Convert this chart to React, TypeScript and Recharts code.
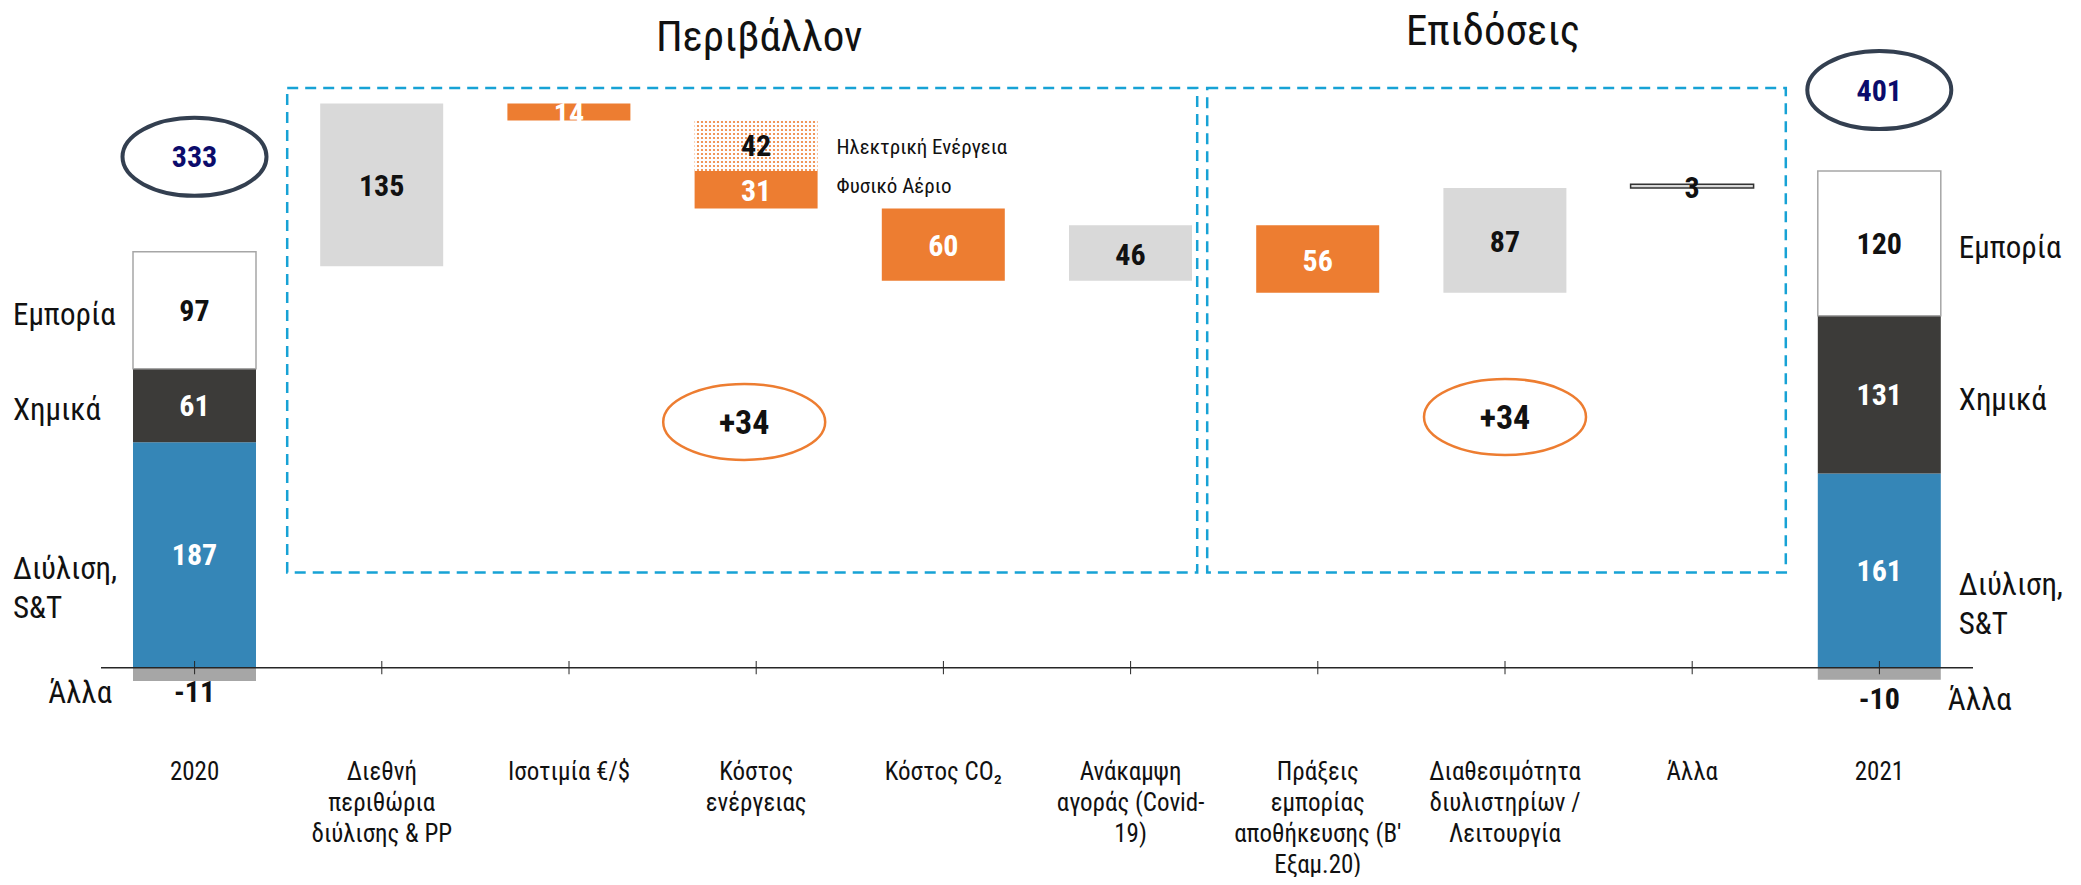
import { Bar, BarChart, Cell, LabelList, ReferenceArea, ReferenceLine, XAxis, YAxis } from "recharts";

const categories = [
  "2020",
  "Διεθνή περιθώρια διύλισης & PP",
  "Ισοτιμία €/$",
  "Κόστος ενέργειας",
  "Κόστος CO₂",
  "Ανάκαμψη αγοράς (Covid-19)",
  "Πράξεις εμπορίας αποθήκευσης (Β' Εξαμ.20)",
  "Διαθεσιμότητα διυλιστηρίων / Λειτουργία",
  "Άλλα",
  "2021",
];
const tickLines = [
  ["2020"],
  ["Διεθνή", "περιθώρια", "διύλισης & PP"],
  ["Ισοτιμία €/$"],
  ["Κόστος", "ενέργειας"],
  ["Κόστος CO₂"],
  ["Ανάκαμψη", "αγοράς (Covid-", "19)"],
  ["Πράξεις", "εμπορίας", "αποθήκευσης (Β'", "Εξαμ.20)"],
  ["Διαθεσιμότητα", "διυλιστηρίων /", "Λειτουργία"],
  ["Άλλα"],
  ["2021"],
];

// 2020 and 2021 columns
const yearTotals = [333, 401];
const refining = [187, 161];
const chemicals = [61, 131];
const trading = [97, 120];
const other = [-11, -10];
const segmentNames = { refining: ["Διύλιση,", "S&T"], chemicals: ["Χημικά"], trading: ["Εμπορία"], other: ["Άλλα"] };

// bridge steps (for Κόστος ενέργειας this is the natural gas part)
const changes = [135, -14, -31, -60, 46, -56, 87, 3];
const electricity = [null, null, -42, null, null, null, null, null];
const energyNames = ["Ηλεκτρική Ενέργεια", "Φυσικό Αέριο"];

const groupTitles = ["Περιβάλλον", "Επιδόσεις"];
const groupTotals = [34, 34];
const groupSpans = [[1, 5], [6, 8]];

const NARROW = "'Liberation Sans Narrow', 'Arial Narrow', 'Roboto Condensed', Roboto, sans-serif";
const ORANGE = "#ed7d31";
const LIGHT = "#d9d9d9";
const BLUE = "#3586b7";
const DARK = "#3c3b39";
const GREY = "#a6a6a6";
const CYAN = "#17a2d5";

type Row = {
  name: string;
  refining: number;
  chemicals: number;
  trading: number;
  other: number;
  base: number;
  step: number;
  elec: number;
  change: number | null;
};

const rows: Row[] = [];
let level = yearTotals[0];
categories.forEach((name, i) => {
  const empty = { refining: 0, chemicals: 0, trading: 0, other: 0, base: 0, step: 0, elec: 0, change: null };
  if (i === 0 || i === categories.length - 1) {
    const k = i === 0 ? 0 : 1;
    rows.push({ ...empty, name, refining: refining[k], chemicals: chemicals[k], trading: trading[k], other: other[k] });
    return;
  }
  const k = i - 1;
  const extra = electricity[k] ?? 0;
  const end = level + changes[k] + extra;
  rows.push({
    ...empty,
    name,
    base: Math.min(level, end),
    step: Math.abs(changes[k]),
    elec: Math.abs(extra),
    change: changes[k],
  });
  level = end;
});

const last = categories.length - 1;

function box(p: any) {
  const v = p.viewBox && p.viewBox.width != null ? p.viewBox : p;
  const x = Number(v.x), y = Number(v.y), w = Number(v.width), h = Number(v.height);
  return { x, w, h: Math.abs(h), top: Math.min(y, y + h), bottom: Math.max(y, y + h), cx: x + w / 2 };
}

// LabelList uses dataKey="name", so the label's value is the category
const catIndex = (p: any) => categories.indexOf(p.value);

function Value({ x, y, color, children, size = 30 }: any) {
  return (
    <text x={x} y={y} textAnchor="middle" dominantBaseline="central" fontFamily={NARROW} fontWeight={700} fontSize={size} fill={color}>
      {children}
    </text>
  );
}

function SideName({ lines, x, y, anchor }: any) {
  return (
    <text x={x} y={y} textAnchor={anchor} dominantBaseline="central" fontFamily={NARROW} fontSize={31} fill="#111">
      {lines.map((l: string, i: number) => (
        <tspan key={i} x={x} dy={i === 0 ? 0 : 39}>
          {l}
        </tspan>
      ))}
    </text>
  );
}

// value inside the segment plus the segment name beside the column
function segmentLabel(key: "refining" | "chemicals" | "trading", values: number[], color: string, nameDy: number) {
  return (p: any) => {
    const i = catIndex(p);
    if (i !== 0 && i !== last) return null;
    const k = i === 0 ? 0 : 1;
    const r = box(p);
    const left = k === 0;
    const mid = (r.top + r.bottom) / 2;
    const lift = left ? 95 : 81;
    return (
      <g>
        <Value x={r.cx} y={mid} color={color}>{values[k]}</Value>
        <SideName lines={segmentNames[key]} x={left ? r.x - 120 : r.x + r.w + 18} y={mid + nameDy} anchor="start" />
        {key === "trading" && (
          <g>
            <ellipse cx={r.cx} cy={r.top - lift} rx={72} ry={39} fill="#fff" stroke="#333f50" strokeWidth={4} />
            <Value x={r.cx} y={r.top - lift} color="#0b0b6b">{yearTotals[k]}</Value>
          </g>
        )}
      </g>
    );
  };
}

function otherLabel(p: any) {
  const i = catIndex(p);
  if (i !== 0 && i !== last) return null;
  const k = i === 0 ? 0 : 1;
  const r = box(p);
  const left = k === 0;
  const y = r.bottom + (left ? 11 : 19);
  return (
    <g>
      <Value x={r.cx} y={y} color="#111">{other[k]}</Value>
      <SideName lines={segmentNames.other} x={left ? r.x - 21 : r.x + r.w + 7} y={y} anchor={left ? "end" : "start"} />
    </g>
  );
}

function stepLabel(p: any) {
  const i = catIndex(p);
  if (i <= 0 || i >= last) return null;
  const k = i - 1;
  const r = box(p);
  const up = changes[k] >= 0;
  const mid = (r.top + r.bottom) / 2;
  return (
    <g>
      <Value x={r.cx} y={mid + 1} color={up ? "#111" : "#fff"}>{Math.abs(changes[k])}</Value>
      {electricity[k] != null && (
        <text x={r.x + r.w + 19} y={mid - 4} dominantBaseline="central" fontFamily={NARROW} fontSize={21} fill="#111">
          {energyNames[1]}
        </text>
      )}
    </g>
  );
}

function elecLabel(p: any) {
  const i = catIndex(p);
  if (i <= 0 || i >= last) return null;
  const k = i - 1;
  if (electricity[k] == null) return null;
  const r = box(p);
  const mid = (r.top + r.bottom) / 2;
  return (
    <g>
      <Value x={r.cx} y={mid} color="#111">{Math.abs(electricity[k] as number)}</Value>
      <text x={r.x + r.w + 19} y={mid + 1} dominantBaseline="central" fontFamily={NARROW} fontSize={21} fill="#111">
        {energyNames[0]}
      </text>
    </g>
  );
}

const groupStyle = [
  { inset: [-1, 27], titleDx: 3, titleLift: 52, badgeDx: -12, badgeDrop: 334 },
  { inset: [-17, 0], titleDx: -12, titleLift: 58, badgeDx: 0, badgeDrop: 329 },
];

function groupShape(g: number) {
  return (p: any) => {
    const s = groupStyle[g];
    const x = p.x + s.inset[0];
    const w = p.width - s.inset[0] - s.inset[1];
    const cx = p.x + p.width / 2;
    return (
      <g>
        <rect x={x} y={p.y} width={w} height={p.height} fill="none" stroke={CYAN} strokeWidth={2.5} strokeDasharray="11 7" />
        <text x={cx + s.titleDx} y={p.y - s.titleLift} textAnchor="middle" dominantBaseline="central" fontFamily={NARROW} fontSize={43} fill="#111">
          {groupTitles[g]}
        </text>
        <ellipse cx={cx + s.badgeDx} cy={p.y + s.badgeDrop} rx={81} ry={38} fill="#fff" stroke={ORANGE} strokeWidth={2.5} />
        <Value x={cx + s.badgeDx} y={p.y + s.badgeDrop} color="#111" size={34}>
          +{groupTotals[g]}
        </Value>
      </g>
    );
  };
}

function CategoryTick(p: any) {
  const idx = categories.indexOf(p.payload.value);
  const lines = tickLines[idx] ?? [String(p.payload.value)];
  return (
    <text x={p.x} y={p.y} textAnchor="middle" fontFamily={NARROW} fontSize={25} fill="#111">
      {lines.map((l, i) => (
        <tspan key={i} x={p.x} dy={i === 0 ? 26 : 31}>
          {l}
        </tspan>
      ))}
    </text>
  );
}

export default function App() {
  return (
    <div style={{ width: 2065, height: 869 }}>
      <style>{".recharts-surface{overflow:visible}"}</style>
      <BarChart
        width={2065}
        height={869}
        data={rows}
        stackOffset="sign"
        barSize={123}
        margin={{ top: 57, right: 100, bottom: 5, left: 93 }}
      >
        <defs>
          <pattern id="dots" width="4" height="4" patternUnits="userSpaceOnUse">
            <rect width="4" height="4" fill="#fff" />
            <circle cx="2" cy="2" r="1.1" fill={ORANGE} />
          </pattern>
        </defs>
        <XAxis dataKey="name" interval={0} axisLine={false} tickLine={false} tickSize={0} height={120} tick={<CategoryTick />} />
        <YAxis hide type="number" domain={[-70, 500]} />
        {groupSpans.map(([a, b], g) => (
          <ReferenceArea
            key={g}
            x1={categories[a]}
            x2={categories[b]}
            y1={79}
            y2={481}
            ifOverflow="visible"
            shape={groupShape(g)}
          />
        ))}
        <Bar dataKey="refining" stackId="s" fill={BLUE} isAnimationActive={false}>
          <LabelList dataKey="name" content={segmentLabel("refining", refining, "#fff", 13)} />
        </Bar>
        <Bar dataKey="chemicals" stackId="s" fill={DARK} isAnimationActive={false}>
          <LabelList dataKey="name" content={segmentLabel("chemicals", chemicals, "#fff", 4)} />
        </Bar>
        <Bar dataKey="trading" stackId="s" fill="#fff" stroke={GREY} strokeWidth={1.5} isAnimationActive={false}>
          <LabelList dataKey="name" content={segmentLabel("trading", trading, "#111", 4)} />
        </Bar>
        <Bar dataKey="other" stackId="s" fill={GREY} isAnimationActive={false}>
          <LabelList dataKey="name" content={otherLabel} />
        </Bar>
        <Bar dataKey="base" stackId="s" fill="transparent" isAnimationActive={false} />
        <Bar dataKey="step" stackId="s" isAnimationActive={false}>
          {rows.map((r, i) => (
            <Cell
              key={i}
              fill={(r.change ?? 0) >= 0 ? LIGHT : ORANGE}
              stroke={r.change != null && Math.abs(r.change) < 5 ? "#333" : "none"}
              strokeWidth={1.5}
            />
          ))}
          <LabelList dataKey="name" content={stepLabel} />
        </Bar>
        <Bar dataKey="elec" stackId="s" fill="url(#dots)" isAnimationActive={false}>
          <LabelList dataKey="name" content={elecLabel} />
        </Bar>
        <ReferenceLine y={0} stroke="#262626" strokeWidth={1.5} ifOverflow="visible" />
        {categories.map((c) => (
          <ReferenceLine
            key={c}
            segment={[
              { x: c, y: 5.5 },
              { x: c, y: -5.5 },
            ]}
            stroke="#262626"
            strokeWidth={1}
            ifOverflow="visible"
          />
        ))}
      </BarChart>
    </div>
  );
}
